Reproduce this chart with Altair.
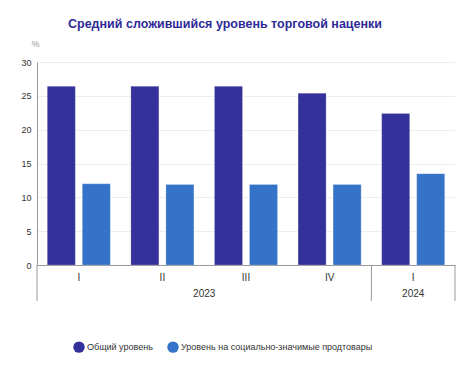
import altair as alt
import pandas as pd

quarters = ["I", "II", "III", "IV", "I"]
years = ["2023", "2023", "2023", "2023", "2024"]
general = [26.4, 26.4, 26.4, 25.4, 22.4]
social = [12.0, 11.9, 11.9, 11.9, 13.5]
series_names = ["Общий уровень", "Уровень на социально-значимые продтовары"]
series_colors = ["#35319A", "#3473C8"]

cats = [f"{y}-{q}-{i}" for i, (y, q) in enumerate(zip(years, quarters))]
rows = []
for c, g, s in zip(cats, general, social):
    rows.append({"cat": c, "series": series_names[0], "value": g})
    rows.append({"cat": c, "series": series_names[1], "value": s})
df = pd.DataFrame(rows)

# year spans (by category index)
yr_rows = []
start = 0
for i in range(1, len(years) + 1):
    if i == len(years) or years[i] != years[start]:
        yr_rows.append({"year": years[start], "start": start, "end": i, "mid": (start + i) / 2})
        start = i
yr_df = pd.DataFrame(yr_rows)
bounds = sorted(set([r["start"] for r in yr_rows] + [r["end"] for r in yr_rows]))
bd_df = pd.DataFrame({"b": bounds})

W, H = 418, 203
FONT = "Liberation Sans"

bars = alt.Chart(df).mark_bar(stroke="#ffffff", strokeOpacity=0.25, strokeWidth=0.8).encode(
    x=alt.X("cat:N", sort=cats,
            scale=alt.Scale(paddingInner=0.246, paddingOuter=0.123),
            axis=alt.Axis(title=None, labelExpr="split(datum.label, '-')[1]",
                          labelAngle=0, labelFontSize=10, labelColor="#333333",
                          labelFont=FONT, labelPadding=7, ticks=False,
                          domainColor="#999999", domainWidth=1)),
    xOffset=alt.XOffset("series:N", sort=series_names,
                        scale=alt.Scale(paddingInner=0.2, paddingOuter=0)),
    y=alt.Y("value:Q", scale=alt.Scale(domain=[0, 30]),
            axis=alt.Axis(title="%", titleAngle=0, titleX=-2, titleY=-14,
                          titleFontSize=9, titleFontWeight="normal", titleColor="#999999",
                          titleFont=FONT, titleAlign="center",
                          values=[0, 5, 10, 15, 20, 25, 30], labelFontSize=9,
                          labelColor="#333333", labelFont=FONT, labelPadding=6,
                          ticks=False, domainColor="#999999",
                          gridColor="#eeeeee")),
    color=alt.Color("series:N", sort=series_names,
                    scale=alt.Scale(domain=series_names, range=series_colors),
                    legend=alt.Legend(title=None, orient="none", direction="horizontal",
                                      legendX=36, legendY=279, symbolType="circle",
                                      symbolSize=130, symbolStrokeWidth=0,
                                      labelFontSize=9, labelColor="#333333",
                                      labelFont=FONT, labelOffset=2, labelLimit=400,
                                      columnPadding=14)),
)

xq = alt.Scale(domain=[0, len(years)])
seps = alt.Chart(bd_df).mark_rule(color="#999999", strokeWidth=1).encode(
    x=alt.X("b:Q", scale=xq, axis=None),
    y=alt.value(H),
    y2=alt.value(H + 36),
)
yr_text = alt.Chart(yr_df).mark_text(fontSize=10, color="#333333", font=FONT,
                                     baseline="middle").encode(
    x=alt.X("mid:Q", scale=xq, axis=None),
    y=alt.value(H + 29),
    text="year:N",
)

chart = alt.layer(bars, alt.layer(seps, yr_text)).resolve_scale(x="independent").properties(
    width=W, height=H,
    title=alt.TitleParams("Средний сложившийся уровень торговой наценки",
                          anchor="start", frame="group", dx=31, offset=9,
                          fontSize=12.5, fontWeight="bold", color="#2E2A98", font=FONT),
    autosize=alt.AutoSizeParams(type="none"),
    padding={"left": 29, "top": 54, "right": 12, "bottom": 115},
).configure_view(stroke=None)

chart.save("out.html", embed_options={"renderer": "svg", "actions": False})
